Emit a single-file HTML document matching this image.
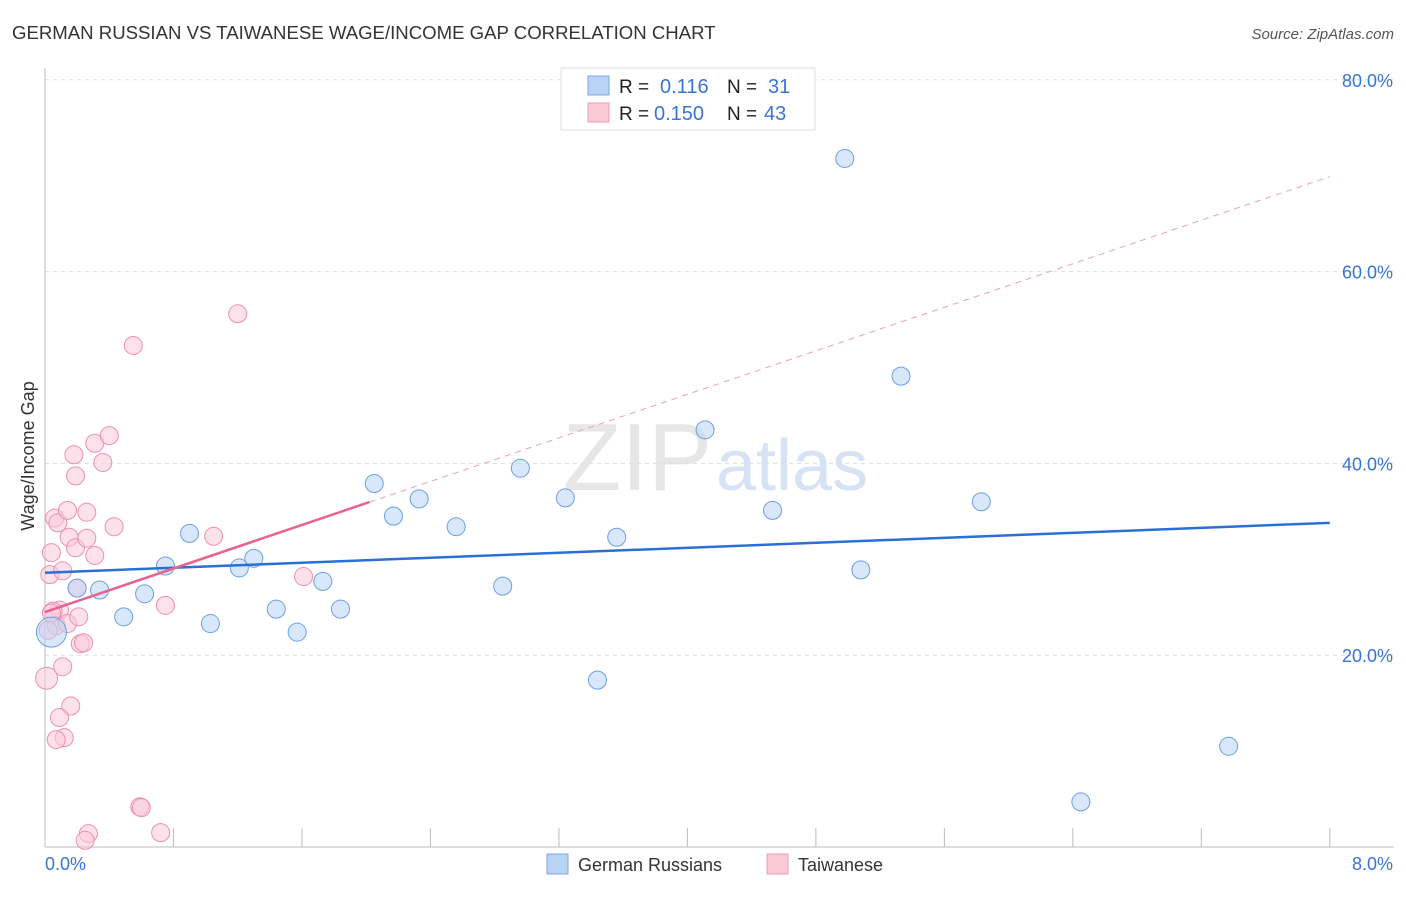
<!DOCTYPE html>
<html><head><meta charset="utf-8"><style>
body{margin:0;background:#fff;font-family:"Liberation Sans",sans-serif;}
svg text{font-family:"Liberation Sans",sans-serif;}
</style></head><body>
<svg id="chart" width="1406" height="892" xmlns="http://www.w3.org/2000/svg">
<text x="12" y="39" font-size="18.6" fill="#333">GERMAN RUSSIAN VS TAIWANESE WAGE/INCOME GAP CORRELATION CHART</text>
<text x="1394" y="39" font-size="15" fill="#555" font-style="italic" text-anchor="end">Source: ZipAtlas.com</text>
<text x="712" y="490" font-size="96" fill="#e6e6e6" text-anchor="end" font-family="Liberation Serif">ZIP</text>
<text x="716" y="490" font-size="72" fill="#d6e3f5">atlas</text>
<g id="grid"></g>
<g id="axes"></g>
<g id="pts"></g>
<g id="lines"></g>
<text transform="translate(34,456) rotate(-90)" font-size="18" fill="#333" text-anchor="middle">Wage/Income Gap</text>
<g>
<rect x="561" y="68" width="254" height="62" fill="#fff" stroke="#ddd"/>
<rect x="588" y="76" width="21" height="19" fill="#b9d3f5" stroke="#7aa7e6"/>
<rect x="588" y="103" width="21" height="19" fill="#fbc9d8" stroke="#ee9ab4"/>
<text x="619" y="93" font-size="19" fill="#222">R =</text><text x="660" y="93" font-size="20" fill="#3a74d1">0.116</text>
<text x="727" y="93" font-size="19" fill="#222">N =</text><text x="768" y="93" font-size="20" fill="#3a74d1">31</text>
<text x="619" y="120" font-size="19" fill="#222">R =</text><text x="654" y="120" font-size="20" fill="#3a74d1">0.150</text>
<text x="727" y="120" font-size="19" fill="#222">N =</text><text x="764" y="120" font-size="20" fill="#3a74d1">43</text>
</g>
<g>
<rect x="547" y="854" width="21" height="20" fill="#b9d3f5" stroke="#7aa7e6"/>
<text x="578" y="871" font-size="18" fill="#333">German Russians</text>
<rect x="767" y="854" width="21" height="20" fill="#fbc9d8" stroke="#ee9ab4"/>
<text x="798" y="871" font-size="18" fill="#333">Taiwanese</text>
</g>
</svg>
<script>
const blueX=[0.04,0.20,0.34,0.49,0.62,0.75,0.90,1.03,1.21,1.30,1.44,1.57,1.73,1.84,2.05,2.17,2.33,2.56,2.85,2.96,3.24,3.44,3.56,4.11,4.53,4.98,5.08,5.33,5.83,6.45,7.37];
const blueY=[22.4,27.0,26.8,24.0,26.4,29.3,32.7,23.3,29.1,30.1,24.8,22.4,27.7,24.8,37.9,34.5,36.3,33.4,27.2,39.5,36.4,17.4,32.3,43.5,35.1,71.8,28.9,49.1,36.0,4.7,10.5];
const pinkX=[0.01,0.04,0.03,0.06,0.08,0.11,0.09,0.05,0.07,0.11,0.14,0.15,0.14,0.16,0.18,0.19,0.19,0.20,0.21,0.22,0.24,0.26,0.26,0.31,0.31,0.36,0.40,0.43,0.12,0.07,0.09,0.55,0.59,0.72,0.75,0.27,0.25,1.05,1.20,1.61,0.02,0.04,0.60];
const pinkY=[17.6,30.7,28.4,34.3,33.8,28.8,24.7,24.6,23.1,18.8,23.3,32.3,35.1,14.7,40.9,38.7,31.2,27.0,24.0,21.2,21.3,34.9,32.2,42.1,30.4,40.1,42.9,33.4,11.4,11.2,13.5,52.3,4.2,1.5,25.2,1.4,0.7,32.4,55.6,28.2,22.6,24.4,4.1];
const yTicks=[20,40,60,80];
const xTickLabels=["0.0%","8.0%"];
const blueTrend=[28.6,33.8];
const pinkTrend=[24.5,69.9];
const NS="http://www.w3.org/2000/svg";
const sx=v=>45+v*160.6, sy=v=>847-v*9.59;
function mk(t,a,p){const e=document.createElementNS(NS,t);for(const k in a)e.setAttribute(k,a[k]);p.appendChild(e);return e;}
const grid=document.getElementById('grid'),axes=document.getElementById('axes'),pts=document.getElementById('pts'),lines=document.getElementById('lines');
yTicks.forEach(t=>{const l=mk('line',{x1:45,x2:1394,y1:sy(t),y2:sy(t),stroke:'#ddd','stroke-dasharray':'4,4'},grid);


const tx=mk('text',{x:1393,y:sy(t)+7,'font-size':18,fill:'#3a74d1','text-anchor':'end'},axes);tx.textContent=t.toFixed(1)+'%';

});
mk('line',{x1:45,x2:45,y1:68,y2:847,stroke:'#bbb'},axes);
mk('line',{x1:45,x2:1394,y1:847,y2:847,stroke:'#bbb'},axes);
for(let i=1;i<=10;i++){mk('line',{x1:sx(i*0.8),x2:sx(i*0.8),y1:828,y2:847,stroke:'#bbb'},axes);}
xTickLabels.forEach((s,i)=>{const tx=mk('text',{x:i?1393:45,y:870,'font-size':18,fill:'#3a74d1','text-anchor':i?'end':'start'},axes);tx.textContent=s;

});
function dots(X,Y,fill,stroke,name){X.forEach((x,i)=>{const r=(i===0)?(name==='blue-point'?15:11):9;
const c=mk('circle',{cx:sx(x),cy:sy(Y[i]),r:r,fill:fill,'fill-opacity':0.55,stroke:stroke,'stroke-width':1},pts);

});}
dots(pinkX,pinkY,'#fbc9d8','#ec8fae','pink-point');
dots(blueX,blueY,'#b9d3f5','#6a9fe3','blue-point');
const bl=mk('line',{x1:sx(0),y1:sy(blueTrend[0]),x2:sx(8),y2:sy(blueTrend[1]),stroke:'#2a6fd6','stroke-width':2.5},lines);


const pe=2.02, py=pinkTrend[0]+(pinkTrend[1]-pinkTrend[0])*pe/8;
const pl=mk('line',{x1:sx(0),y1:sy(pinkTrend[0]),x2:sx(pe),y2:sy(py),stroke:'#e8628e','stroke-width':2.5},lines);


const pd=mk('line',{x1:sx(pe),y1:sy(py),x2:sx(8),y2:sy(pinkTrend[1]),stroke:'#eaa0b8','stroke-width':1,'stroke-dasharray':'6,5'},lines);


</script>
</body></html>
